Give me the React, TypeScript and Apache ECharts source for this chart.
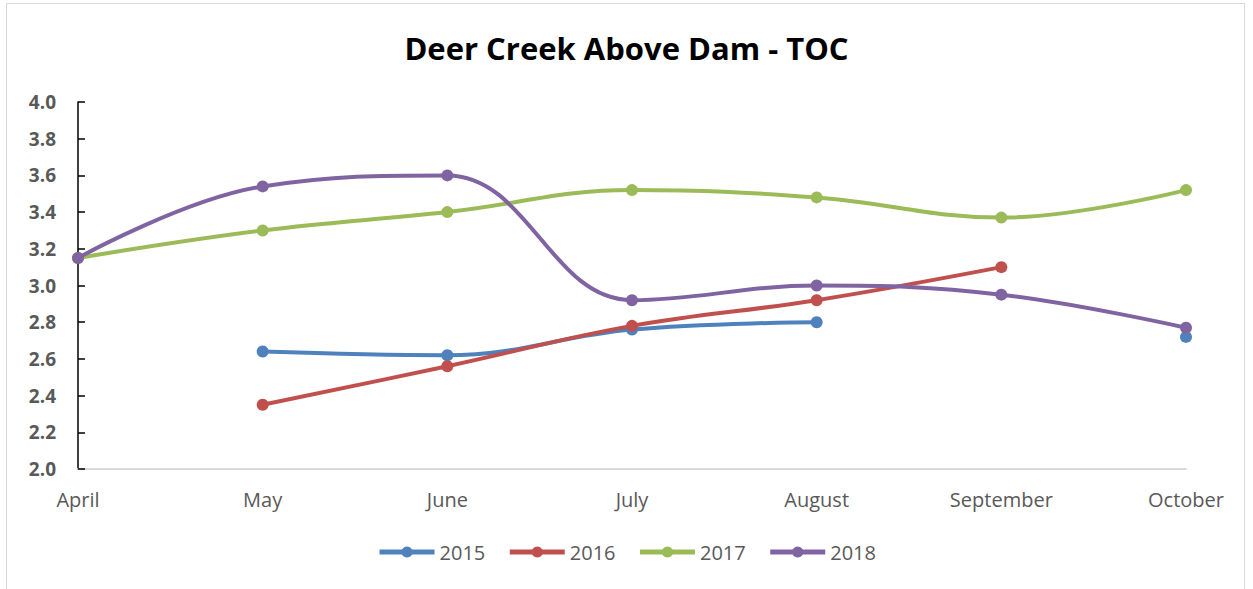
import React, { useEffect, useRef } from "react";
import * as echarts from "echarts";

const months = ["April", "May", "June", "July", "August", "September", "October"];
const s2015 = [null, 2.64, 2.62, 2.76, 2.8, null, 2.72];
const s2016 = [null, 2.35, 2.56, 2.78, 2.92, 3.1, null];
const s2017 = [3.15, 3.3, 3.4, 3.52, 3.48, 3.37, 3.52];
const s2018 = [3.15, 3.54, 3.6, 2.92, 3.0, 2.95, 2.77];
const seriesNames = ["2015", "2016", "2017", "2018"];
const seriesColors = ["#4f81bd", "#c0504d", "#9bbb59", "#8064a2"];
const yTicks = { min: 2.0, max: 4.0, interval: 0.2 };

export default function App() {
  const ref = useRef<HTMLDivElement>(null);
  useEffect(() => {
    const chart = echarts.init(ref.current!, null, { renderer: "svg" });
    const all = [s2015, s2016, s2017, s2018];
    chart.setOption({
      animation: false,
      title: {
        text: "Deer Creek Above Dam - TOC",
        left: "center",
        top: 27,
        textStyle: { fontFamily: "Open Sans", fontSize: 31, fontWeight: "bold", color: "#000" },
      },
      legend: {
        top: 537,
        left: "center",
        itemWidth: 55,
        itemHeight: 14,
        itemGap: 22,
        lineStyle: { width: 5 },
        textStyle: { fontFamily: "Open Sans", fontSize: 20, color: "#595959" },
        data: seriesNames,
      },
      grid: { left: 78, right: 67, top: 102, bottom: 120 },
      xAxis: {
        type: "category",
        data: months,
        boundaryGap: false,
        axisLine: { lineStyle: { color: "#d9d9d9", width: 2 } },
        axisTick: { show: false },
        axisLabel: { fontFamily: "Open Sans", fontSize: 20, color: "#595959", margin: 20 },
      },
      yAxis: {
        type: "value",
        min: yTicks.min,
        max: yTicks.max,
        interval: yTicks.interval,
        axisLine: { show: true, lineStyle: { color: "#000", width: 1.5 } },
        axisTick: { show: true, inside: true, length: 7, lineStyle: { color: "#000", width: 1.5 } },
        splitLine: { show: false },
        axisLabel: {
          fontFamily: "Open Sans",
          fontSize: 19,
          fontWeight: "bold",
          color: "#595959",
          margin: 22,
          formatter: (v: number) => v.toFixed(1),
        },
      },
      series: all.map((d, i) => ({
        name: seriesNames[i],
        type: "line",
        data: d,
        smooth: 0.4,
        connectNulls: false,
        symbol: "circle",
        symbolSize: 12,
        showAllSymbol: true,
        color: seriesColors[i],
        lineStyle: { width: 4, color: seriesColors[i] },
        itemStyle: { color: seriesColors[i] },
        z: 2 + i,
      })),
    });
    return () => chart.dispose();
  }, []);
  return (
    <div style={{ position: "absolute", left: 0, top: 0, width: 1253, height: 589 }}>
      <div
        style={{
          position: "absolute",
          left: 6,
          top: 3,
          width: 1239,
          height: 590,
          border: "1px solid #d9d9d9",
          boxSizing: "border-box",
        }}
      />
      <div ref={ref} style={{ position: "absolute", left: 0, top: 0, width: 1253, height: 589 }} />
    </div>
  );
}
